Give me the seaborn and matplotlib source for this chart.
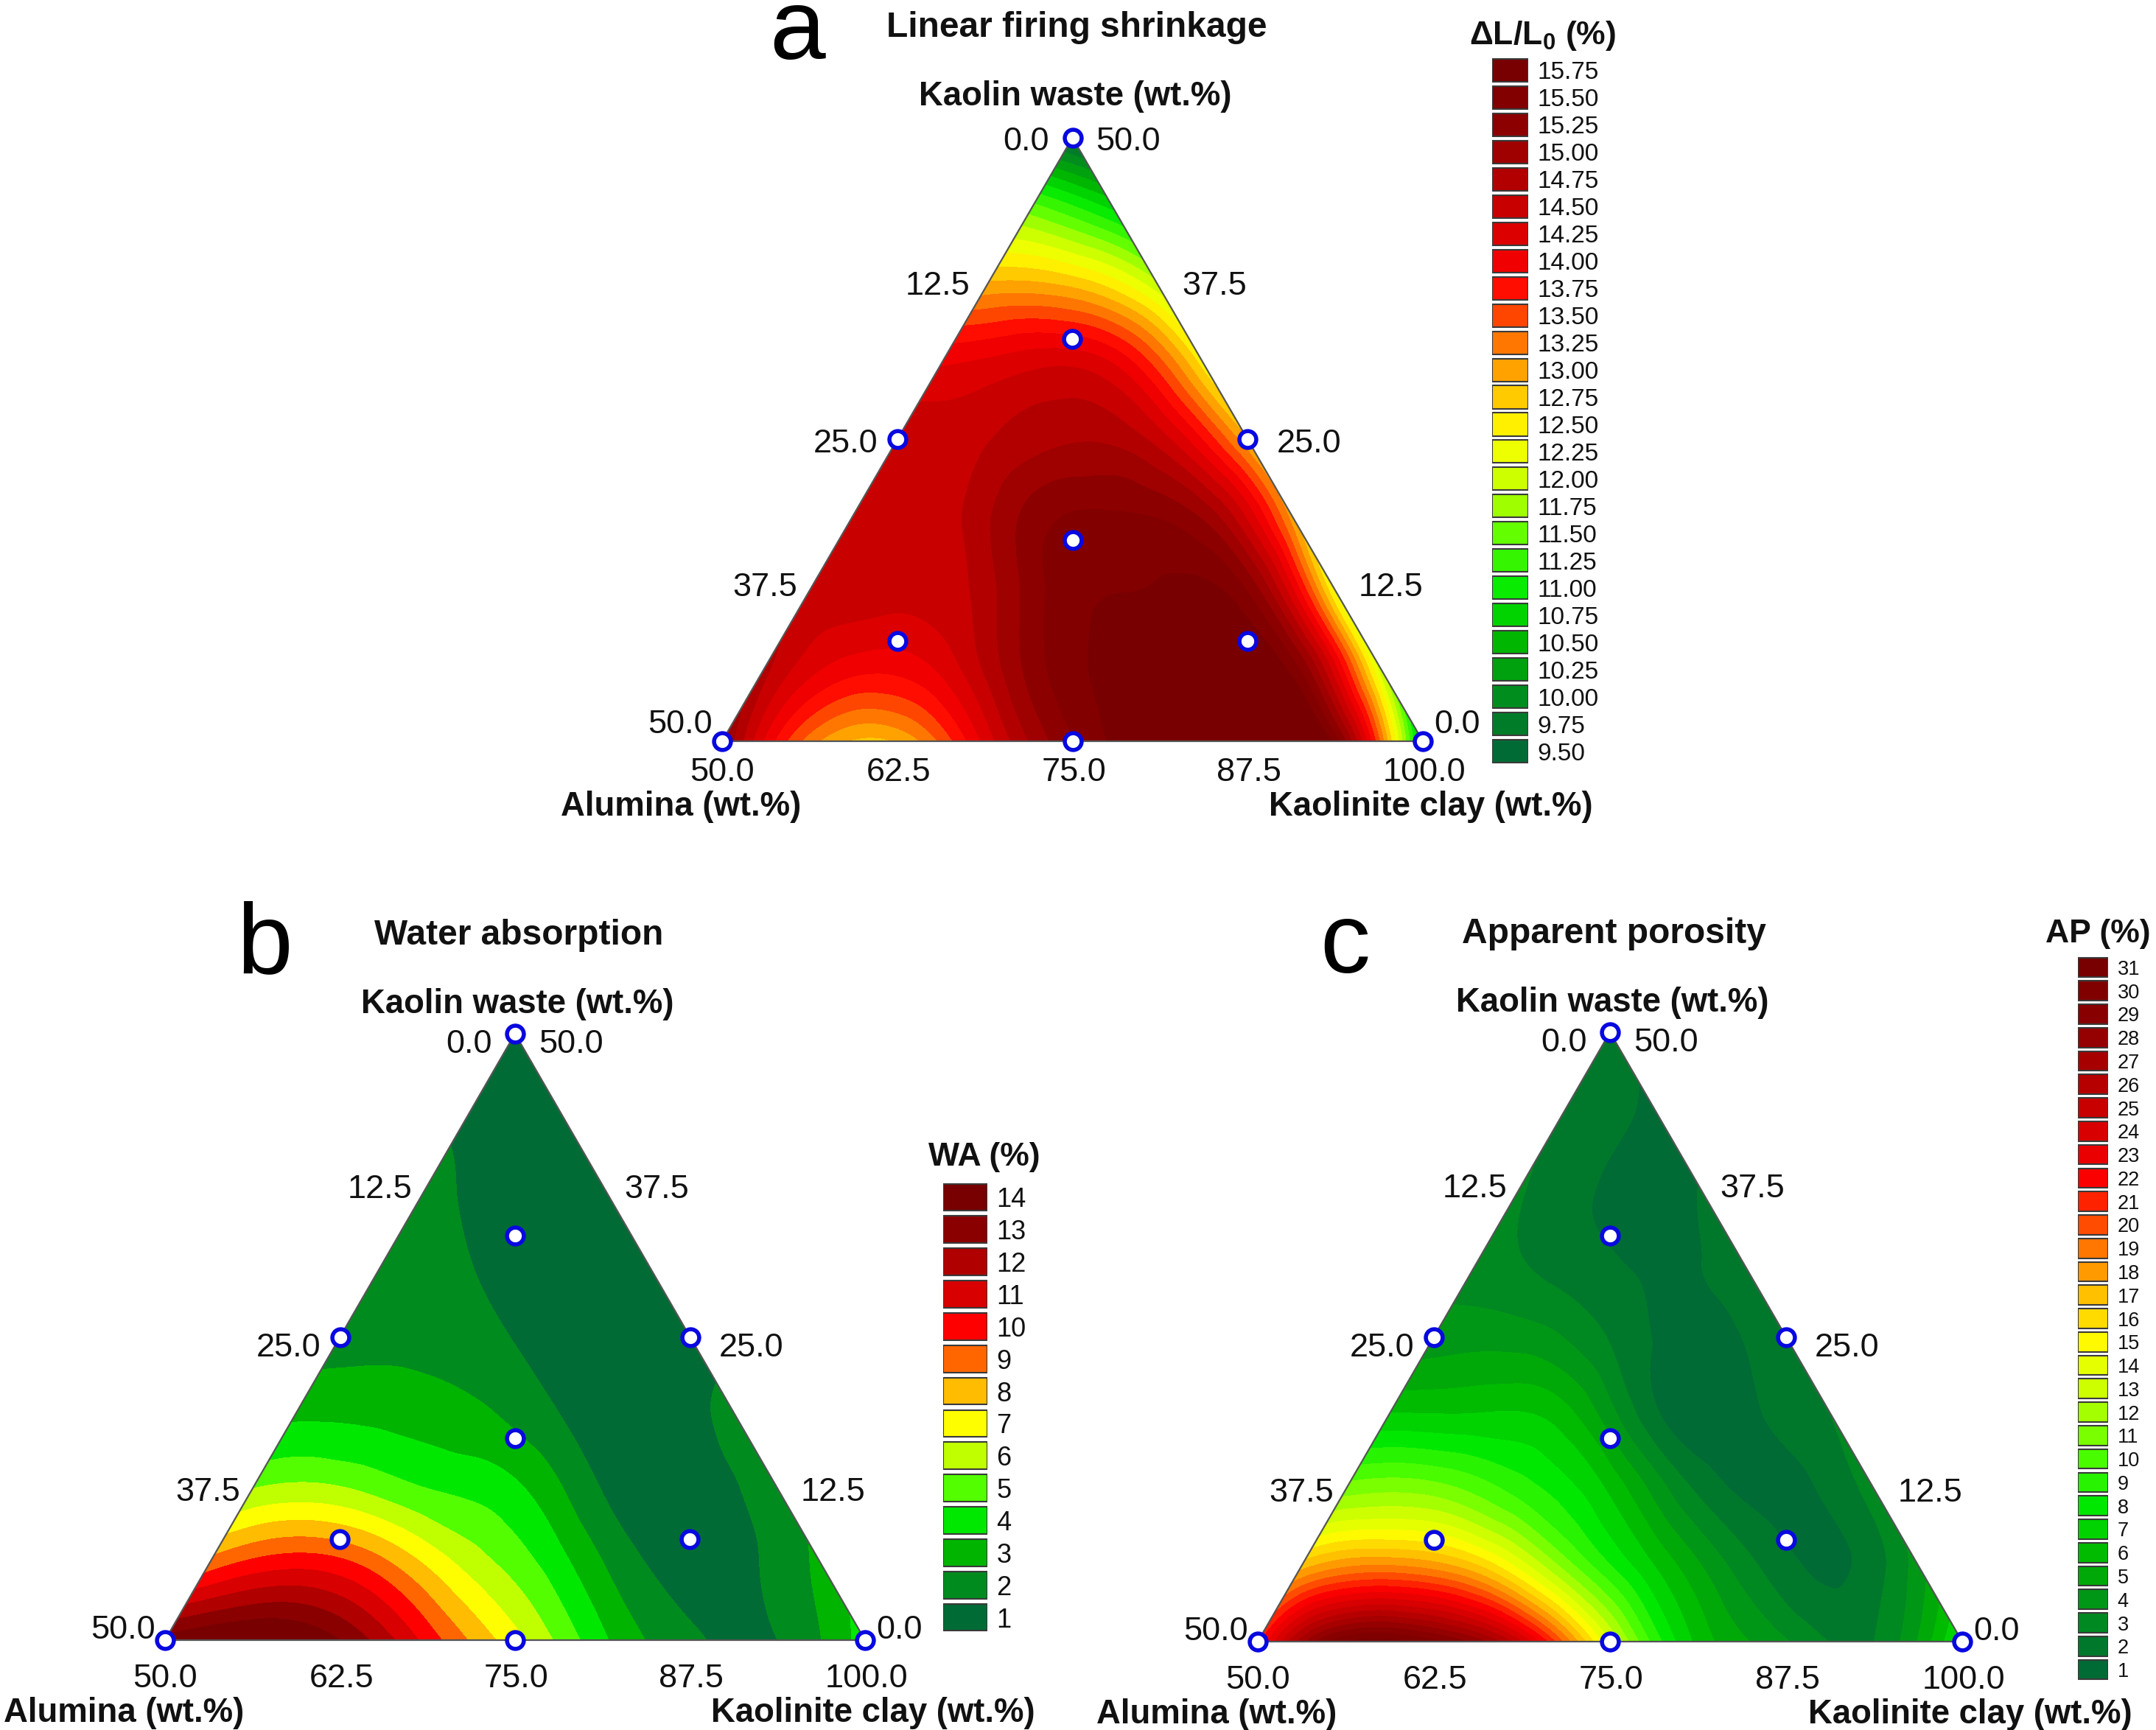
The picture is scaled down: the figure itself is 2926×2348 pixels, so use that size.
import numpy as np
import matplotlib
matplotlib.use('Agg')
import matplotlib.pyplot as plt
import matplotlib.tri as mtri
import seaborn as sns

W, H = 2926, 2348
PX = 2926 / 1568  # offsets below are measured on the 1568 wide view

## composition of the design points (wt.%)
pts_alumina = [50, 0, 0, 25, 25, 0, 16.67, 33.33, 8.33, 8.33]
pts_clay = [50, 100, 50, 75, 50, 75, 66.67, 58.33, 83.33, 58.33]
pts_kaolin = [0, 0, 50, 0, 25, 25, 16.67, 8.33, 8.33, 33.33]

## response, rows from kaolin 0 up to 50 in 6.25 steps
lfs_rows = [
    [15.2, 13.25, 12.9, 14.2, 15.35, 15.85, 15.95, 15.5, 10.4],
    [14.7, 14.0, 14.2, 15.2, 15.7, 15.9, 15.5, 12.0],
    [14.5, 14.45, 14.75, 15.55, 15.65, 15.35, 12.3],
    [14.5, 14.5, 15.2, 15.4, 15.05, 13.0],
    [14.5, 14.6, 14.85, 14.5, 12.9],
    [14.1, 14.3, 14.1, 12.5],
    [13.0, 12.9, 12.0],
    [11.6, 10.9],
    [9.4],
]
wa_rows = [
    [14.0, 14.9, 13.5, 10.1, 6.85, 3.7, 1.7, 1.5, 4.0],
    [9.0, 10.2, 8.8, 6.1, 3.9, 1.5, 1.2, 2.8],
    [5.5, 5.6, 4.5, 3.7, 1.45, 1.0, 2.0],
    [3.3, 3.2, 2.75, 1.5, 0.95, 1.8],
    [2.05, 2.1, 1.45, 0.9, 1.0],
    [1.9, 1.5, 0.9, 0.9],
    [1.9, 0.9, 0.9],
    [1.2, 0.9],
    [0.9],
]
ap_rows = [
    [21.0, 30.5, 29.8, 24.5, 13.5, 6.2, 3.6, 2.5, 8.0],
    [17.0, 18.5, 16.5, 11.0, 6.5, 3.0, 1.3, 4.0],
    [11.0, 11.0, 9.0, 6.3, 2.3, 1.2, 3.0],
    [6.5, 6.5, 5.8, 1.7, 1.2, 2.5],
    [4.0, 4.0, 2.4, 1.2, 2.0],
    [3.0, 2.0, 1.4, 1.7],
    [2.6, 1.4, 1.5],
    [2.2, 1.4],
    [1.6],
]

## legend entries, top to bottom
lfs_labels = [f'{v:.2f}' for v in np.arange(15.75, 9.25, -0.25)]
wa_labels = [str(v) for v in range(14, 0, -1)]
ap_labels = [str(v) for v in range(31, 0, -1)]

clay_ticks = ['50.0', '62.5', '75.0', '87.5', '100.0']
left_ticks = ['0.0', '12.5', '25.0', '37.5', '50.0']
right_ticks = ['50.0', '37.5', '25.0', '12.5', '0.0']

ramp = ['#006b35', '#008c1e', '#00b400', '#00e800', '#55ff00', '#c0ff00', '#ffff00',
        '#ffbb00', '#ff6600', '#ff0000', '#d80000', '#b00000', '#8b0000', '#780000']

sns.set_theme(style='white')
plt.rcParams['font.family'] = ['Liberation Sans', 'DejaVu Sans']
plt.rcParams['mathtext.fontset'] = 'custom'
plt.rcParams['mathtext.bf'] = 'Liberation Sans:bold'
plt.rcParams['mathtext.rm'] = 'Liberation Sans'

fig = plt.figure(figsize=(W / 100, H / 100), dpi=100)


def px_axes(left, top, right, bottom):
    return fig.add_axes([left / W, 1 - bottom / H, (right - left) / W, (bottom - top) / H])


def lattice(rows):
    xs, ys, zs, index = [], [], [], {}
    for j, row in enumerate(rows):
        for i, val in enumerate(row):
            index[(i, j)] = len(xs)
            xs.append(6.25 * i + 3.125 * j)
            ys.append(6.25 * j)
            zs.append(val)
    tris = []
    n = len(rows)
    for j in range(n - 1):
        for i in range(n - 1 - j):
            tris.append([index[(i, j)], index[(i + 1, j)], index[(i, j + 1)]])
            if i < n - 2 - j:
                tris.append([index[(i + 1, j)], index[(i + 1, j + 1)], index[(i, j + 1)]])
    return mtri.Triangulation(xs, ys, tris), np.array(zs)


def note(ax, txt, xy, dx, dy, **kw):
    kw.setdefault('fontsize', 32.5)
    kw.setdefault('color', '#111111')
    kw.setdefault('ha', 'center')
    kw.setdefault('va', 'center')
    ax.annotate(txt, xy=xy, xycoords='data', xytext=(dx * PX, dy * PX),
                textcoords='offset pixels', annotation_clip=False, **kw)


def panel(rows, labels, box, title, letter, letter_off, shift):
    ax = px_axes(*box)
    ax.set_xlim(0, 50)
    ax.set_ylim(0, 50)
    ax.axis('off')

    colours = sns.blend_palette(ramp, len(labels))  # low to high
    vals = np.array([float(v) for v in labels[::-1]])
    step = vals[1] - vals[0]
    edges = np.r_[-100, vals[:-1] + step / 2, 100]

    tri, z = lattice(rows)
    fine, zf = mtri.UniformTriRefiner(tri).refine_field(z, subdiv=4)
    ax.tricontourf(fine, zf, levels=edges, colors=colours)
    ax.plot([0, 50, 25, 0], [0, 0, 50, 0], color='#555555', lw=1.6, clip_on=False)

    px = np.array(pts_clay) - 50 + np.array(pts_kaolin) / 2
    py = np.array(pts_kaolin)
    sns.scatterplot(x=px, y=py, ax=ax, s=270, color='white', edgecolor='#0808e0',
                    linewidth=4, clip_on=False, zorder=5, legend=False)
    ax.set_xlim(0, 50)
    ax.set_ylim(0, 50)

    for k, lab in enumerate(clay_ticks):
        note(ax, lab, (12.5 * k, 0), 1 if k else 0, -23 + shift)
    for k, lab in enumerate(left_ticks):
        xy = (25 - 6.25 * k, 50 - 12.5 * k)
        gap = [-17, -11, -14, -9, -7][k]
        up = [-3, 2, -3, 2, 12][k]
        note(ax, lab, xy, gap, up + shift, ha='right')
    for k, lab in enumerate(right_ticks):
        xy = (25 + 6.25 * k, 50 - 12.5 * k)
        gap = [17, 16, 21, 17, 8][k]
        up = [-3, 2, -3, 2, 12][k]
        note(ax, lab, xy, gap, up + shift, ha='left')

    bold = dict(fontweight='bold', fontsize=32.8)
    note(ax, 'Alumina (wt.%)', (0, 0), -30, -47.5 + 1.1 * shift, **bold)
    note(ax, 'Kaolinite clay (wt.%)', (50, 0), 6, -47.5 + 1.1 * shift, **bold)
    note(ax, 'Kaolin waste (wt.%)', (25, 50), 2, 30 + 1.7 * shift, **bold)
    note(ax, title, (25, 50), 3, 80 + 1.7 * shift, fontweight='bold', fontsize=34.5)
    note(ax, letter, (25, 50), letter_off[0], letter_off[1], fontsize=98, color='black')
    return colours


def colour_key(labels, colours, box, title, title_xy, size):
    ax = px_axes(*box)
    sns.barplot(x=np.ones(len(labels)), y=labels, hue=labels, palette=list(colours)[::-1],
                width=0.84, edgecolor='#3a3a3a', linewidth=1.5, saturation=1, legend=False, ax=ax)
    ax.set_xlim(0, 1)
    ax.set_xlabel('')
    ax.set_ylabel('')
    ax.set_xticks([])
    ax.yaxis.tick_right()
    ax.tick_params(axis='y', length=0, pad=9, labelsize=size, labelcolor='#111111')
    sns.despine(ax=ax, left=True, bottom=True, right=True, top=True)
    fig.text(title_xy[0] * PX / W, 1 - title_xy[1] * PX / H, title, fontweight='bold',
             fontsize=32, ha='center', va='center', color='#111111')


col_a = panel(lfs_rows, lfs_labels, (980, 187, 1931, 1006), 'Linear firing shrinkage', 'a', (-200, 76), 0)
col_b = panel(wa_rows, wa_labels, (224, 1403, 1174, 2226), 'Water absorption', 'b', (-182, 63), -5)
col_c = panel(ap_rows, ap_labels, (1707, 1401, 2663, 2228), 'Apparent porosity', 'c', (-193, 62), -5)

colour_key(lfs_labels, col_a, (2025, 77, 2074, 1038), r'ΔL/L$_{\mathbf{0}}$ (%)', (1122, 26), 24)
colour_key(wa_labels, col_b, (1280, 1603, 1340, 2217), 'WA (%)', (716, 841.5), 26)
colour_key(ap_labels, col_c, (2820, 1297, 2861, 2282), 'AP (%)', (1526, 679.5), 19.5)

plt.savefig('out.png', dpi=100)
